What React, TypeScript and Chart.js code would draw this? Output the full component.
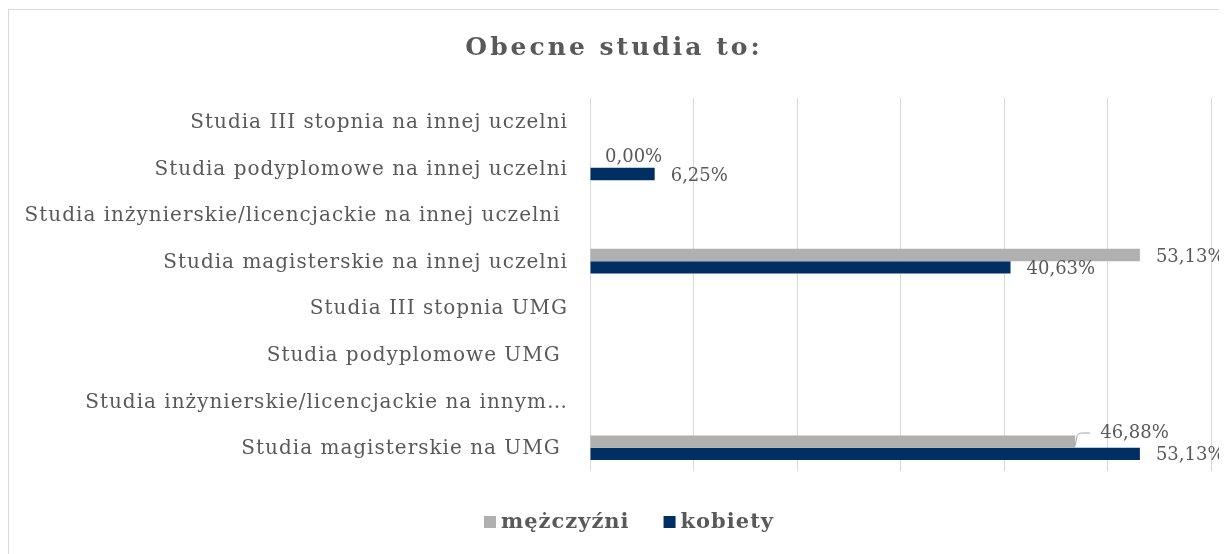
import React, { useEffect, useRef } from 'react';
import { Chart, registerables } from 'chart.js';

Chart.register(...registerables);

const categories = [
  'Studia III stopnia na innej uczelni',
  'Studia podyplomowe na innej uczelni',
  'Studia inżynierskie/licencjackie na innej uczelni ',
  'Studia magisterskie na innej uczelni',
  'Studia III stopnia UMG',
  'Studia podyplomowe UMG ',
  'Studia inżynierskie/licencjackie na innym…',
  'Studia magisterskie na UMG ',
];
const seriesNames = ['mężczyźni', 'kobiety'];
const menValues = [null, 0, null, 53.13, null, null, null, 46.88];
const womenValues = [null, 6.25, null, 40.63, null, null, null, 53.13];
const axisMin = 0;
const axisMax = 60;
const axisStep = 10;
const titleText = 'Obecne studia to:';

const FONT = '"DejaVu Serif", "Liberation Serif", serif';
const TEXT_COLOR = '#595959';
const COLORS = ['#b0b0b0', '#003063'];

const fmt = (v: number) => v.toFixed(2).replace('.', ',') + '%';

const spacingPlugin = {
  id: 'spacing',
  beforeDraw(chart: any) {
    const ctx = chart.ctx;
    ctx.letterSpacing = '1px';
    const tb = chart.titleBlock;
    if (tb && !tb.__patched) {
      const orig = tb.draw;
      tb.draw = function (...args: any[]) {
        ctx.save();
        ctx.letterSpacing = '3px';
        orig.apply(this, args);
        ctx.restore();
      };
      tb.__patched = true;
    }
  },
};

const labelPlugin = {
  id: 'valueLabels',
  afterDatasetsDraw(chart: any) {
    const ctx = chart.ctx;
    ctx.save();
    ctx.letterSpacing = '0px';
    ctx.font = `18px ${FONT}`;
    ctx.fillStyle = TEXT_COLOR;
    ctx.textAlign = 'left';
    ctx.textBaseline = 'middle';
    chart.data.datasets.forEach((ds: any, di: number) => {
      const meta = chart.getDatasetMeta(di);
      meta.data.forEach((bar: any, i: number) => {
        const v = ds.data[i];
        if (v === null || v === undefined) return;
        let dx = 16;
        let dy = 2;
        let leader = false;
        const other = chart.data.datasets[1 - di].data[i];
        if (di === 0 && other !== null && other !== undefined) {
          const otherBar = chart.getDatasetMeta(1).data[i];
          if (Math.abs(otherBar.x - bar.x) < 75 && otherBar.x > bar.x) {
            if (v === 0) {
              dy = -4.5;
              dx = 15;
            } else {
              dy = -8.5;
              dx = 25;
              leader = true;
            }
          }
        }
        if (leader) {
          ctx.save();
          ctx.strokeStyle = '#a6a6a6';
          ctx.lineWidth = 1;
          ctx.beginPath();
          ctx.moveTo(bar.x, bar.y + 4);
          ctx.lineTo(bar.x + 2, bar.y - 6);
          ctx.quadraticCurveTo(bar.x + 3, bar.y - 8.5, bar.x + 6, bar.y - 8.5);
          ctx.lineTo(bar.x + 15, bar.y - 8.5);
          ctx.stroke();
          ctx.restore();
        }
        ctx.fillText(fmt(v), bar.x + dx, bar.y + dy);
      });
    });
    ctx.restore();
  },
};

const legendPlugin = {
  id: 'customLegend',
  afterDraw(chart: any) {
    const ctx = chart.ctx;
    ctx.save();
    ctx.letterSpacing = '1px';
    ctx.font = `bold 21px ${FONT}`;
    ctx.textBaseline = 'middle';
    ctx.textAlign = 'left';
    const box = 12;
    const gapText = 5;
    const gapItem = 34;
    const widths = chart.data.datasets.map((d: any) => ctx.measureText(d.label).width);
    let total = 0;
    widths.forEach((w: number, i: number) => {
      total += box + gapText + w + (i < widths.length - 1 ? gapItem : 0);
    });
    const centerX = chart.width / 2 + 11;
    const y = 512;
    let x = centerX - total / 2;
    chart.data.datasets.forEach((d: any, i: number) => {
      ctx.fillStyle = d.backgroundColor;
      ctx.fillRect(x, y - box / 2, box, box);
      x += box + gapText;
      ctx.fillStyle = TEXT_COLOR;
      ctx.fillText(d.label, x, y + 1);
      x += widths[i] + gapItem;
    });
    ctx.restore();
  },
};

export default function App() {
  const ref = useRef<HTMLCanvasElement | null>(null);

  useEffect(() => {
    document.body.style.overflow = 'hidden';
    document.documentElement.style.overflow = 'hidden';
    if (!ref.current) return;
    const chart = new Chart(ref.current, {
      type: 'bar',
      data: {
        labels: categories,
        datasets: [
          {
            label: seriesNames[0],
            data: menValues,
            backgroundColor: COLORS[0],
            borderWidth: 0,
            categoryPercentage: 0.527,
            barPercentage: 1,
          },
          {
            label: seriesNames[1],
            data: womenValues,
            backgroundColor: COLORS[1],
            borderWidth: 0,
            categoryPercentage: 0.527,
            barPercentage: 1,
          },
        ],
      },
      options: {
        indexAxis: 'y',
        responsive: false,
        animation: false,
        devicePixelRatio: 1,
        layout: { padding: { left: 8, right: 16, top: 0, bottom: 83 } },
        scales: {
          x: {
            min: axisMin,
            max: axisMax,
            ticks: { display: false, stepSize: axisStep },
            grid: { color: '#d9d9d9', lineWidth: 1, drawTicks: false },
            border: { display: false },
          },
          y: {
            grid: { display: false, drawTicks: false },
            border: { display: false },
            ticks: {
              padding: 22,
              labelOffset: 1.5,
              color: TEXT_COLOR,
              font: { family: FONT, size: 20 },
              autoSkip: false,
            },
            afterFit: (scale: any) => {
              scale.width = 573;
            },
          },
        },
        plugins: {
          legend: { display: false },
          tooltip: { enabled: false },
          title: {
            display: true,
            text: titleText,
            color: TEXT_COLOR,
            font: { family: FONT, size: 25, weight: 'bold', lineHeight: 1.2 },
            padding: { top: 23, bottom: 34.9 },
          },
        },
      } as any,
      plugins: [spacingPlugin, labelPlugin, legendPlugin],
    });
    return () => chart.destroy();
  }, []);

  return (
    <div
      style={{
        marginTop: 1,
        width: 1219,
        height: 545,
        boxSizing: 'border-box',
        borderLeft: '1px solid #d9d9d9',
        borderTop: '1px solid #d9d9d9',
        overflow: 'hidden',
      }}
    >
      <canvas ref={ref} width={1218} height={544} style={{ display: 'block', width: 1218, height: 544 }} />
    </div>
  );
}
